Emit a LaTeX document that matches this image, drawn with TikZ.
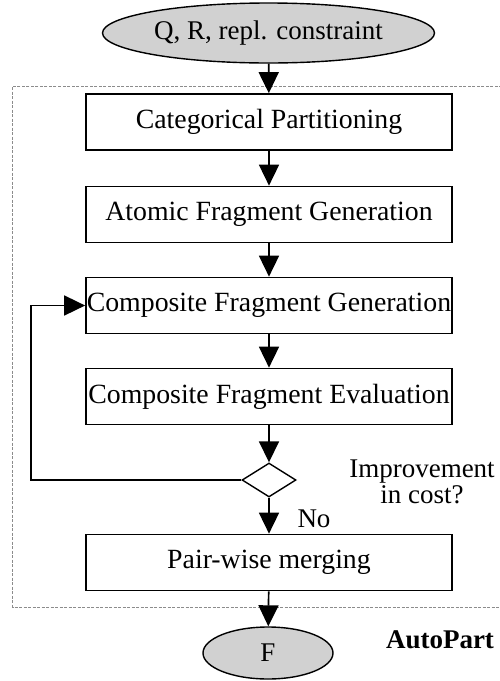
\documentclass[tikz,border=0pt]{standalone}
\usepackage{fontspec}
\setmainfont{Liberation Serif}
\usetikzlibrary{arrows.meta,shapes.geometric}
\tikzset{
  stepbox/.style={draw, line width=1.7pt, minimum width=366pt, minimum height=56pt, inner sep=0pt, font=\fontsize{27.8}{30}\selectfont},
  terminal/.style={draw, ellipse, fill=black!18, line width=1.4pt, inner sep=0pt},
  decision/.style={draw, diamond, line width=1.4pt, minimum width=54pt, minimum height=34pt, inner sep=0pt, aspect=1.6},
  flow/.style={line width=1.7pt, -{Triangle[length=21pt,width=20pt]}},
  region/.style={draw=black!45, line width=0.8pt, dash pattern=on 3pt off 1.5pt},
  txt/.style={font=\fontsize{27}{26}\selectfont}
}
\begin{document}
\begin{tikzpicture}[x=1pt,y=-1pt, every node/.style={txt}]
\useasboundingbox (0,0) rectangle (500,681);
\fill[white] (0,0) rectangle (500,681);

% AutoPart region
\draw[region] (502,86) -- (12.5,86) -- (12.5,607) -- (502,607);

% start and end terminals
\node[terminal, minimum width=332pt, minimum height=60pt] (in) at (268.5,33) {Q, R, repl. constraint};
\node[terminal, minimum width=130pt, minimum height=52pt] (out) at (268,653) {F};

% processing steps
\node[stepbox] (b1) at (269,122) {Categorical Partitioning};
\node[stepbox] (b2) at (269,214.5) {Atomic Fragment Generation};
\node[stepbox] (b3) at (269,305.5) {Composite Fragment Generation};
\node[stepbox] (b4) at (269,396.5) {Composite Fragment Evaluation};
\node[decision] (dia) at (269,480) {};
\node[stepbox] (b5) at (269,562.5) {Pair-wise merging};

% labels
\node[align=center, font=\fontsize{27}{26}\selectfont] (q) at (422,482) {Improvement\\in cost?};
\node (no) at (314,519) {No};
\node[font=\fontsize{27}{32}\selectfont\bfseries] (ap) at (440,640) {AutoPart};

% connectors
\draw[flow] (in) -- (b1);
\draw[flow] (b1) -- (b2);
\draw[flow] (b2) -- (b3);
\draw[flow] (b3) -- (b4);
\draw[flow] (b4) -- (dia);
\draw[flow] (dia) -- (b5);
\draw[flow] (b5) -- (out);
\coordinate (loop) at (31,480);
\draw[flow] (dia.west) -- (loop) |- (b3.west);
\end{tikzpicture}
\end{document}
